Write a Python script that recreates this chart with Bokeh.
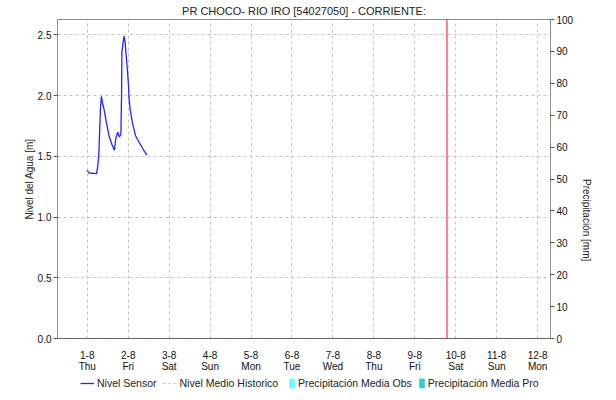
import math
import pandas as pd
from bokeh.plotting import figure
from bokeh.layouts import column
from bokeh.models import (LinearAxis, Range1d, FixedTicker, Span, Legend, LegendItem,
                          Title, ColumnDataSource, NumeralTickFormatter)
from bokeh.embed import file_html
from bokeh.resources import INLINE

# ---- data ----
sensor_time = ["2024-08-01 00:00", "2024-08-01 01:00", "2024-08-01 05:24", "2024-08-01 06:00",
               "2024-08-01 06:45", "2024-08-01 07:42", "2024-08-01 08:18", "2024-08-01 08:54",
               "2024-08-01 09:48", "2024-08-01 11:12", "2024-08-01 12:42", "2024-08-01 14:24",
               "2024-08-01 15:54", "2024-08-01 16:42", "2024-08-01 17:48", "2024-08-01 18:48",
               "2024-08-01 19:42", "2024-08-01 20:06", "2024-08-01 20:18", "2024-08-01 21:00",
               "2024-08-01 21:36", "2024-08-01 22:12", "2024-08-01 22:36", "2024-08-01 23:18",
               "2024-08-02 00:06", "2024-08-02 00:30", "2024-08-02 01:06", "2024-08-02 02:24",
               "2024-08-02 04:18", "2024-08-02 06:12", "2024-08-02 09:06", "2024-08-02 11:00"]
sensor_level = [1.385, 1.363, 1.357, 1.40, 1.51, 1.887, 1.995, 1.94, 1.89, 1.78, 1.67, 1.60,
                1.55, 1.645, 1.70, 1.66, 1.68, 2.0, 2.36, 2.44, 2.49, 2.44, 2.36, 2.25,
                2.10, 1.98, 1.89, 1.78, 1.67, 1.62, 1.55, 1.51]
hist_time = ["2024-07-31 06:00", "2024-08-12 12:00"]
hist_level = [0.0, 0.0]
precip_obs_time = ["2024-08-01", "2024-08-02", "2024-08-03", "2024-08-04", "2024-08-05",
                   "2024-08-06", "2024-08-07", "2024-08-08", "2024-08-09"]
precip_obs = [0, 0, 0, 0, 0, 0, 0, 0, 0]
precip_pro_time = ["2024-08-10", "2024-08-11", "2024-08-12"]
precip_pro = [0, 0, 0]

tick_days = ["2024-08-01", "2024-08-02", "2024-08-03", "2024-08-04", "2024-08-05", "2024-08-06",
             "2024-08-07", "2024-08-08", "2024-08-09", "2024-08-10", "2024-08-11", "2024-08-12"]
tick_labels = ["1-8\nThu", "2-8\nFri", "3-8\nSat", "4-8\nSun", "5-8\nMon", "6-8\nTue",
               "7-8\nWed", "8-8\nThu", "9-8\nFri", "10-8\nSat", "11-8\nSun", "12-8\nMon"]
now_time = "2024-08-09 18:50"
x_start = "2024-07-31 06:33"
x_end = "2024-08-12 07:32"
level_ticks = [0.0, 0.5, 1.0, 1.5, 2.0, 2.5]
precip_ticks = [0, 10, 20, 30, 40, 50, 60, 70, 80, 90, 100]


def ms(s):
    return int(pd.Timestamp(s).value // 10**6)


FONT = "Liberation Sans"
C_SENSOR = "#2424ff"
C_HIST = "#bdbdbd"
C_OBS = "#66ffff"
C_PRO = "#33cccc"

p = figure(width=600, height=374, output_backend="svg", toolbar_location=None,
           x_axis_type="datetime",
           x_range=Range1d(ms(x_start), ms(x_end)), y_range=Range1d(0, 2.627),
           min_border_left=57, min_border_right=38, min_border_top=19, min_border_bottom=30)
p.extra_y_ranges = {"precip": Range1d(0, 100)}

p.title = None
p.add_layout(Title(text="PR CHOCO- RIO IRO [54027050] - CORRIENTE:", align="center",
                   text_font=FONT, text_font_size="11px", text_font_style="normal",
                   text_color="#222222", standoff=5, offset=0), "above")

p.outline_line_color = "#8a8a8a"
p.background_fill_color = "white"
p.border_fill_color = "white"

# grids
p.xgrid.ticker = FixedTicker(ticks=[ms(d) for d in tick_days])
p.ygrid.ticker = FixedTicker(ticks=level_ticks)
for g in (p.xgrid[0], p.ygrid[0]):
    g.grid_line_color = "#c4c4c4"
    g.grid_line_dash = "3 3"
    g.grid_line_width = 1

# x axis
xa = p.xaxis[0]
xa.ticker = FixedTicker(ticks=[ms(d) for d in tick_days])
xa.major_label_overrides = {ms(d): lab for d, lab in zip(tick_days, tick_labels)}
xa.major_tick_line_color = None
xa.minor_tick_line_color = None
xa.axis_line_color = "#333333"
xa.axis_line_dash = "1 1"
xa.major_label_text_font = FONT
xa.major_label_text_font_size = "10px"
xa.major_label_text_color = "#111111"
xa.major_label_standoff = 5
xa.major_label_text_line_height = 1.0

# left axis
ya = p.yaxis[0]
ya.ticker = FixedTicker(ticks=level_ticks)
ya.formatter = NumeralTickFormatter(format="0.0")
ya.axis_label = "Nivel del Agua [m]"
ya.axis_label_text_font = FONT
ya.axis_label_text_font_size = "10px"
ya.axis_label_text_font_style = "normal"
ya.axis_label_text_color = "#222222"
ya.axis_label_standoff = 0
ya.major_label_text_font = FONT
ya.major_label_text_font_size = "10px"
ya.major_label_text_color = "#111111"
ya.axis_line_color = "#8a8a8a"
ya.major_tick_line_color = "#555555"
ya.major_tick_in = 0
ya.major_tick_out = 4
ya.minor_tick_line_color = None
ya.major_label_standoff = 2

# right axis
ra = LinearAxis(y_range_name="precip", ticker=FixedTicker(ticks=precip_ticks),
                axis_label="Precipitación [mm]")
ra.axis_label_text_font = FONT
ra.axis_label_text_font_size = "10px"
ra.axis_label_text_font_style = "normal"
ra.axis_label_text_color = "#222222"
ra.axis_label_standoff = 10
if "axis_label_orientation" in ra.properties():
    ra.axis_label_orientation = -math.pi / 2
ra.major_label_text_font = FONT
ra.major_label_text_font_size = "10px"
ra.major_label_text_color = "#111111"
ra.axis_line_color = "#8a8a8a"
ra.major_tick_line_color = "#555555"
ra.major_tick_in = 0
ra.major_tick_out = 4
ra.minor_tick_line_color = None
ra.major_label_standoff = 2
p.add_layout(ra, "right")

# series
src = ColumnDataSource(dict(t=[ms(t) for t in sensor_time], y=sensor_level))
hsrc = ColumnDataSource(dict(t=[ms(t) for t in hist_time], y=hist_level))
osrc = ColumnDataSource(dict(t=[ms(t) for t in precip_obs_time], y=precip_obs))
psrc = ColumnDataSource(dict(t=[ms(t) for t in precip_pro_time], y=precip_pro))

p.vbar(x="t", top="y", width=3600000, source=osrc, fill_color=C_OBS,
       line_color=None, y_range_name="precip")
p.vbar(x="t", top="y", width=3600000, source=psrc, fill_color=C_PRO,
       line_color=None, y_range_name="precip")
p.line("t", "y", source=hsrc, line_color=C_HIST, line_dash="2 3", line_width=1)
p.line("t", "y", source=src, line_color=C_SENSOR, line_width=1.3)

p.add_layout(Span(location=ms(now_time), dimension="height", line_color="#ff3030",
                  line_width=1.2))

# ---- legend strip (its frame is aligned with the main frame, left edge at 57px) ----
leg = figure(width=600, height=18, output_backend="svg", toolbar_location=None,
             x_axis_location=None, y_axis_location=None,
             x_range=Range1d(0, 1), y_range=Range1d(0, 1), min_border=0)
leg.outline_line_color = None
leg.grid.visible = False
leg.background_fill_color = "white"
leg.border_fill_color = "white"

l_sensor = leg.line("t", "y", source=src, line_color=C_SENSOR, line_width=1.3)
l_hist = leg.line("t", "y", source=hsrc, line_color=C_HIST, line_dash="2 3", line_width=1)
l_obs = leg.vbar(x="t", top="y", width=3600000, source=osrc, fill_color=C_OBS, line_color=None)
l_pro = leg.vbar(x="t", top="y", width=3600000, source=psrc, fill_color=C_PRO, line_color=None)


def style(lg, gw):
    lg.label_text_font = FONT
    lg.label_text_font_size = "10.5px"
    lg.label_text_color = "#222222"
    lg.glyph_width = gw
    lg.glyph_height = 12
    lg.label_height = 12
    lg.label_standoff = 3
    lg.spacing = 6
    lg.padding = 0
    lg.margin = 0
    lg.border_line_color = None
    lg.background_fill_alpha = 0


leg1 = Legend(items=[LegendItem(label="Nivel Sensor", renderers=[l_sensor]),
                     LegendItem(label="Nivel Medio Historico", renderers=[l_hist])],
              orientation="horizontal", location=(23, 3))
style(leg1, 14)
leg2 = Legend(items=[LegendItem(label="Precipitación Media Obs", renderers=[l_obs]),
                     LegendItem(label="Precipitación Media Pro", renderers=[l_pro])],
              orientation="horizontal", location=(231, 3))
style(leg2, 7)
leg.add_layout(leg1)
leg.add_layout(leg2)

layout = column(p, leg, spacing=0)
open("out.html", "w").write(file_html(layout, INLINE))
